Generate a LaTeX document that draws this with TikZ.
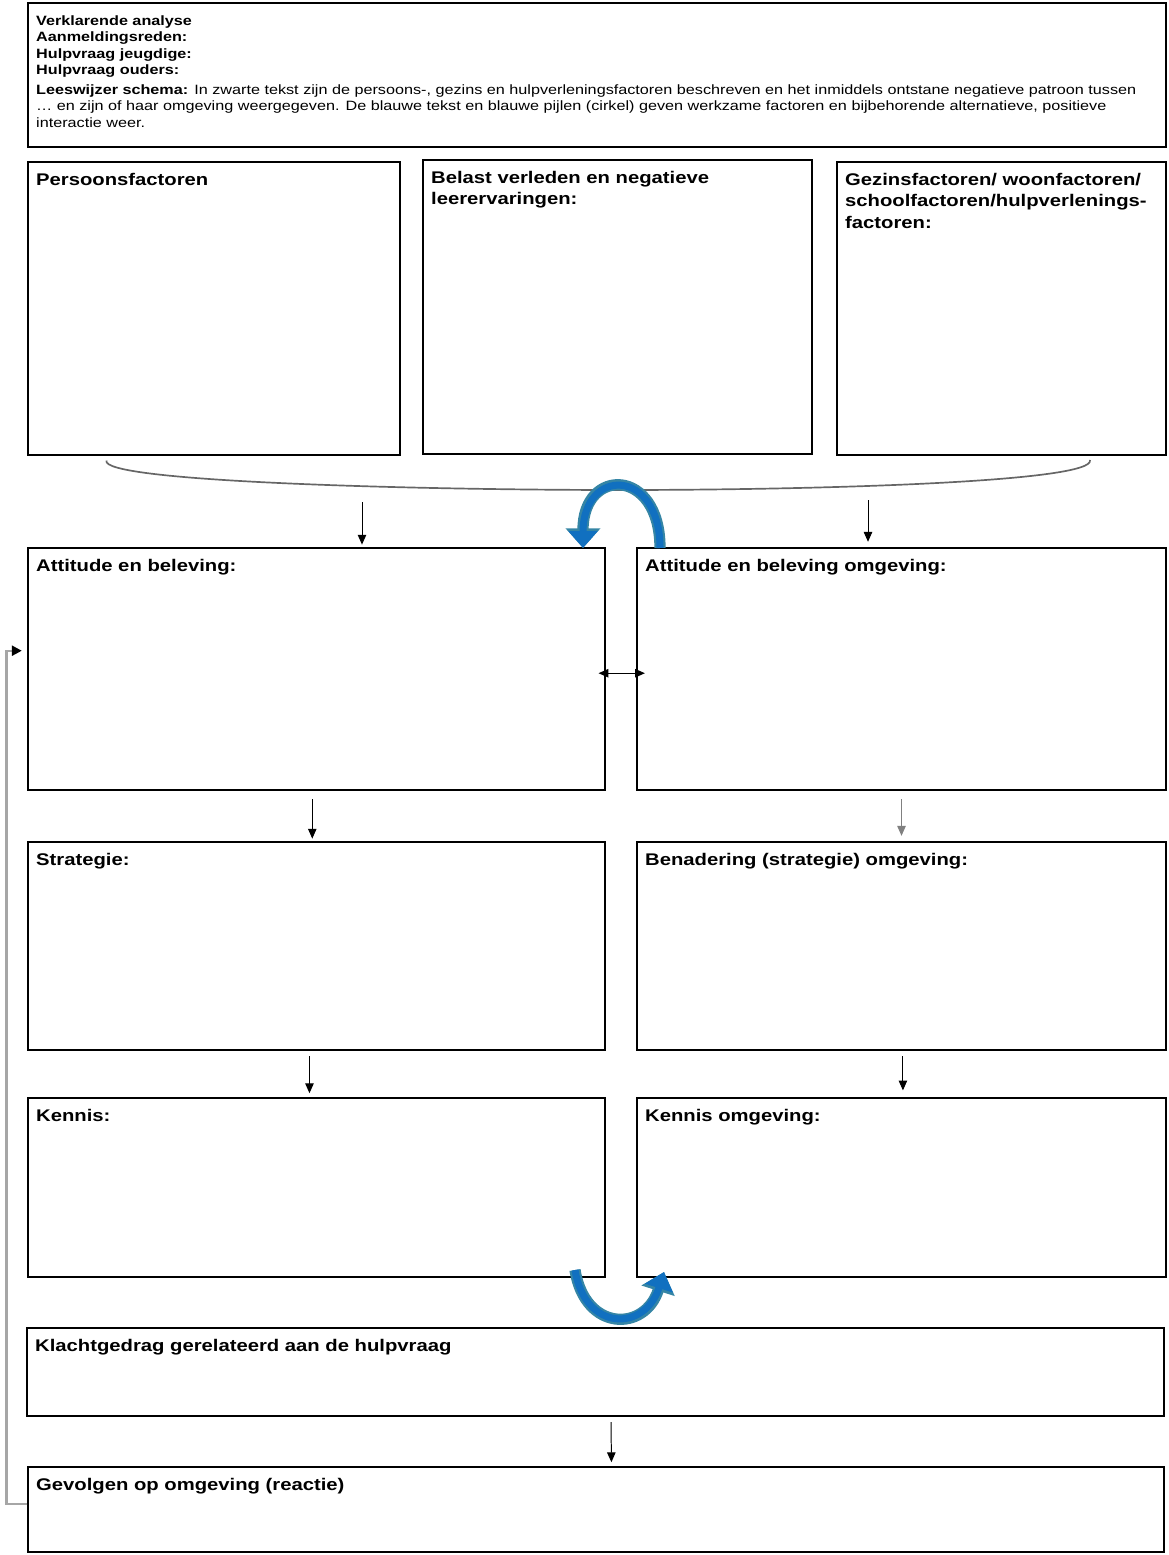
\documentclass[tikz,border=0pt]{standalone}
\usepackage{fontspec}
\setmainfont{Liberation Sans}[FakeStretch=1.2]
\usetikzlibrary{arrows.meta,positioning,fit}
\definecolor{arcfill}{HTML}{1170C0}
\definecolor{arcedge}{HTML}{3585A5}

\begin{document}
\begin{tikzpicture}[
  x=0.025cm, y=-0.025cm,
  >={Triangle[length=7pt,width=6pt]},
  box/.style={draw, line width=0.8pt, inner sep=0pt},
  title/.style={font=\fontsize{12}{15.5}\selectfont\bfseries, align=left, inner sep=0pt},
  hdr/.style={font=\fontsize{9.6}{11.8}\selectfont, align=left, inner sep=0pt},
  link/.style={->, line width=0.7pt},
  greylink/.style={->, line width=0.7pt, draw=gray, fill=gray},
  brace/.style={line width=1.2pt, black!60},
  bluearc/.style={line width=5pt, arcfill, -{Triangle[length=12pt,width=20pt]},
    preaction={draw=arcedge, line width=8pt, -{Triangle[length=14pt,width=24pt]}}},
]
\useasboundingbox (0,0) rectangle (1168,1555);
% Header
\node[box, fit={(28,3) (1166,147)}] (head) {};
\node[hdr, below right=9pt and 6pt of head.north west] (headT) {\textbf{Verklarende analyse}\\
  \textbf{Aanmeldingsreden:}\\
  \textbf{Hulpvraag jeugdige:}\\
  \textbf{Hulpvraag ouders:}\\[2pt]
  \textbf{Leeswijzer schema:} In zwarte tekst zijn de persoons-, gezins en hulpverleningsfactoren beschreven en het inmiddels ontstane negatieve patroon tussen\\
  \dots{} en zijn of haar omgeving weergegeven. De blauwe tekst en blauwe pijlen (cirkel) geven werkzame factoren en bijbehorende alternatieve, positieve\\
  interactie weer.};
% Factor row
\node[box, fit={(28,162) (400,455)}] (pers) {};
\node[box, fit={(423,160) (812,454)}] (belast) {};
\node[box, fit={(837,162) (1166,455)}] (gezin) {};
\node[title, below right=8pt and 6pt of pers.north west] (persT) {Persoonsfactoren};
\node[title, below right=8pt and 6pt of belast.north west] (belastT) {Belast verleden en negatieve\\leerervaringen:};
\node[title, below right=8pt and 6pt of gezin.north west] (gezinT) {Gezinsfactoren/ woonfactoren/\\schoolfactoren/hulpverlenings-\\factoren:};
\draw[brace] (pers.south west) ++(79,5) coordinate (bl)
  .. controls (100,482) and (420,490) .. (620,490) coordinate (bm)
  .. controls (820,490) and (1096,482) .. (1090,460) coordinate (br);
% Attitude row
\node[box, fit={(28,548) (605,790)}] (att) {};
\node[box, fit={(637,548) (1166,790)}] (atto) {};
\node[title, below right=8pt and 6pt of att.north west] (attT) {Attitude en beleving:};
\node[title, below right=8pt and 6pt of atto.north west] (attoT) {Attitude en beleving omgeving:};
\coordinate (inL) at (362,502);
\coordinate (inR) at (868,500);
\draw[link, shorten >=2pt] (inL) -- (inL |- att.north);
\draw[link, shorten >=4pt] (inR) -- (inR |- atto.north);
\draw[bluearc] (660,548) .. controls (660,467) and (583,467) .. (583,548);
\draw[<->, line width=0.7pt, shorten <=-5pt, shorten >=-6pt] ([yshift=-3pt]att.east) -- ([yshift=-3pt]atto.west);
% Strategy row
\node[box, fit={(28,842) (605,1050)}] (strat) {};
\node[box, fit={(637,842) (1166,1050)}] (strato) {};
\node[title, below right=8pt and 6pt of strat.north west] (stratT) {Strategie:};
\node[title, below right=8pt and 6pt of strato.north west] (stratoT) {Benadering (strategie) omgeving:};
\draw[link, shorten <=6pt, shorten >=2pt] ([xshift=-3pt]att.south) -- ([xshift=-3pt]strat.north);
\draw[greylink, shorten <=6pt, shorten >=4pt] (atto.south) -- (strato.north);
% Knowledge row
\node[box, fit={(28,1098) (605,1277)}] (kennis) {};
\node[box, fit={(637,1098) (1166,1277)}] (kenniso) {};
\node[title, below right=8pt and 6pt of kennis.north west] (kennisT) {Kennis:};
\node[title, below right=8pt and 6pt of kenniso.north west] (kennisoT) {Kennis omgeving:};
\draw[link, shorten <=4pt, shorten >=3pt] ([xshift=-5pt]strat.south) -- ([xshift=-5pt]kennis.north);
\draw[link, shorten <=4pt, shorten >=5pt] ([xshift=1pt]strato.south) -- ([xshift=1pt]kenniso.north);
\draw[bluearc] (575,1270) .. controls (585,1332) and (645,1332) .. (664,1272);
% Behaviour and consequences
\node[box, fit={(27,1328) (1164,1416)}] (klacht) {};
\node[box, fit={(28,1467) (1164,1552)}] (gevolg) {};
\node[title, below right=8pt and 6pt of klacht.north west] (klachtT) {Klachtgedrag gerelateerd aan de hulpvraag};
\node[title, below right=8pt and 6pt of gevolg.north west] (gevolgT) {Gevolgen op omgeving (reactie)};
\draw[link, shorten <=4pt, shorten >=3pt] ([xshift=11pt]klacht.south) -- ([xshift=11pt]gevolg.north);
\draw[line width=1.6pt, black!35, -{Triangle[length=7pt,width=7pt,color=black]}, shorten >=4pt]
  ([yshift=4pt]gevolg.west) -- ++(-21,0) |- ([yshift=13pt]att.west);
\end{tikzpicture}
\end{document}
